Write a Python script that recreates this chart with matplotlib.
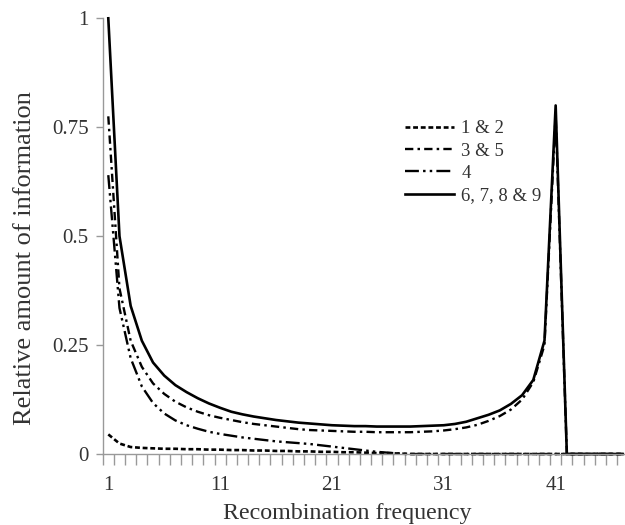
import matplotlib
matplotlib.use("Agg")
import matplotlib.pyplot as plt
import numpy as np

# recombination frequency categories 1..47
freq = np.arange(1, 48)

info_1_2 = [0.045, 0.024, 0.016, 0.014, 0.013, 0.012, 0.012, 0.011, 0.011, 0.010,
            0.010, 0.009, 0.009, 0.008, 0.008, 0.007, 0.007, 0.006, 0.006, 0.005,
            0.005, 0.004, 0.004, 0.003, 0.002, 0.002, 0.001, 0.0, 0.0, 0.0,
            0.0, 0.0, 0.0, 0.0, 0.0, 0.0, 0.0, 0.0, 0.0, 0.0,
            0.0, 0.0, 0.0, 0.0, 0.0, 0.0, 0.0]
info_3_5 = [0.775, 0.38, 0.26, 0.200, 0.162, 0.138, 0.120, 0.107, 0.097, 0.089,
            0.083, 0.078, 0.073, 0.069, 0.066, 0.063, 0.060, 0.057, 0.055, 0.054,
            0.053, 0.052, 0.051, 0.051, 0.050, 0.050, 0.050, 0.050, 0.051, 0.052,
            0.054, 0.057, 0.061, 0.067, 0.076, 0.087, 0.102, 0.125, 0.165, 0.25,
            0.78, 0.0, 0.0, 0.0, 0.0, 0.0, 0.0]
info_4 = [0.64, 0.335, 0.22, 0.155, 0.117, 0.093, 0.077, 0.066, 0.058, 0.051,
          0.046, 0.042, 0.038, 0.035, 0.032, 0.029, 0.027, 0.025, 0.023, 0.020,
          0.017, 0.014, 0.011, 0.008, 0.005, 0.003, 0.001, 0.0, 0.0, 0.0,
          0.0, 0.0, 0.0, 0.0, 0.0, 0.0, 0.0, 0.0, 0.0, 0.0,
          0.0, 0.0, 0.0, 0.0, 0.0, 0.0, 0.0]
info_6_9 = [1.0, 0.50, 0.34, 0.26, 0.21, 0.180, 0.158, 0.142, 0.128, 0.116,
            0.106, 0.097, 0.091, 0.086, 0.082, 0.078, 0.075, 0.072, 0.070, 0.068,
            0.066, 0.065, 0.064, 0.064, 0.063, 0.063, 0.063, 0.063, 0.064, 0.065,
            0.066, 0.069, 0.074, 0.082, 0.090, 0.100, 0.115, 0.135, 0.170, 0.26,
            0.80, 0.0, 0.0, 0.0, 0.0, 0.0, 0.0]

series = [
    ("1 & 2", info_1_2, (0, (3.5, 2.0)), 1.9),
    ("3 & 5", info_3_5, (0, (6.0, 3.0, 1.8, 3.0)), 1.7),
    ("4", info_4, (0, (10.0, 3.0, 1.8, 3.0, 1.8, 3.0)), 1.7),
    ("6, 7, 8 & 9", info_6_9, "-", 1.9),
]

plt.rcParams["font.family"] = ["Liberation Serif", "DejaVu Serif"]
plt.rcParams["lines.scale_dashes"] = False

fig = plt.figure(figsize=(6.25, 5.25), dpi=100)
ax = fig.add_axes([102.7 / 625, 1 - 454 / 525, 1 - 102.7 / 625, 435.7 / 525])

for label, vals, ls, lw in series:
    ax.plot(freq, vals, color="black", linestyle=ls, linewidth=lw, label=label, clip_on=False)

ax.set_xlim(0.5, 47.2)
ax.set_ylim(0, 1)

ax.set_yticks([0, 0.25, 0.5, 0.75, 1])
ax.set_yticklabels(["0", "0.25", "0.5", "0.75", "1"])
ax.set_xticks([1, 11, 21, 31, 41])
ax.set_xticks(np.arange(0.5, 47.5, 1), minor=True)
ax.tick_params(axis="x", which="major", length=0, pad=16, labelsize=15, labelcolor="#333333")
ax.tick_params(axis="x", which="minor", length=8, width=1, color="#999999", direction="out")
ax.tick_params(axis="y", which="major", length=5, width=1, color="#999999", labelsize=15,
               labelcolor="#333333", pad=5)

for s in ["top", "right"]:
    ax.spines[s].set_visible(False)
for s in ["left", "bottom"]:
    ax.spines[s].set_color("#999999")
    ax.spines[s].set_linewidth(1)

ax.set_xlabel("Recombination frequency", fontsize=17.3, color="#333333", va="center")
ax.xaxis.set_label_coords((347.5 - 102.7) / 522.3, (454 - 513) / 435.7)
ax.set_ylabel("Relative amount of information", fontsize=19, color="#333333",
              va="center", ha="center")
ax.yaxis.set_label_coords((25 - 102.7) / 522.3, (454 - 258) / 435.7)

ax.legend(loc="upper left", bbox_to_anchor=(405 / 625, 1 - 120 / 525), bbox_transform=fig.transFigure,
          frameon=False, fontsize=13.5, handlelength=2.6, handletextpad=0.4,
          labelspacing=0.28, borderpad=0, borderaxespad=0, labelcolor="#333333")

fig.savefig("out.png", dpi=100)
